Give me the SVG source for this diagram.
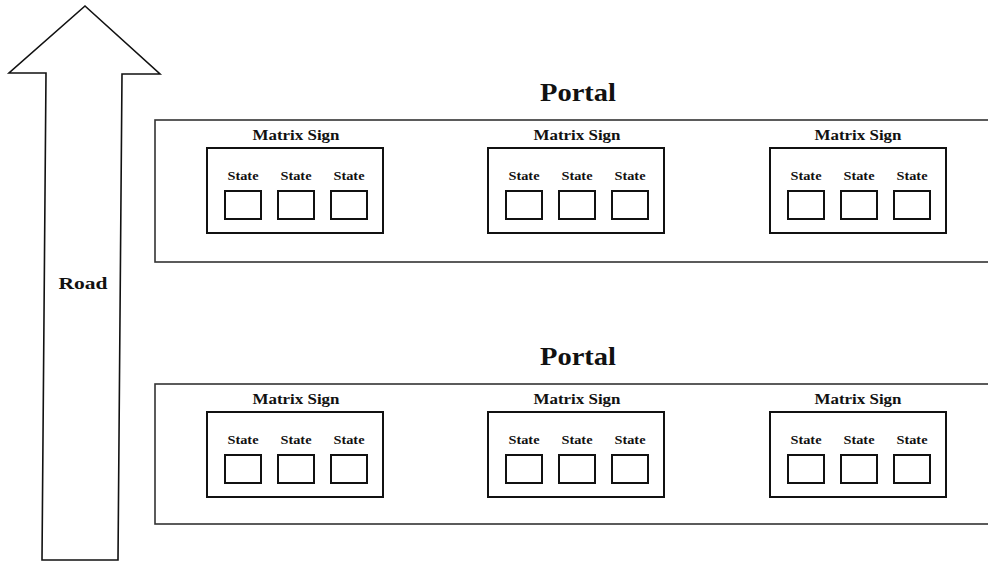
<svg xmlns="http://www.w3.org/2000/svg" width="988" height="561" viewBox="0 0 988 561">
<defs>
<style>
.t{font-family:"Liberation Serif","Times New Roman",serif;font-weight:bold;fill:#111;text-anchor:middle}
.portal{fill:#fff;stroke:#333;stroke-width:1.6}
.sign{fill:#fff;stroke:#111;stroke-width:2}
.state{fill:#fff;stroke:#111;stroke-width:2}
.road{fill:#fff;stroke:#111;stroke-width:1.6;stroke-linejoin:miter}
</style>
<g id="stateSet">
<text class="t" x="36" y="32" font-size="13" textLength="31" lengthAdjust="spacingAndGlyphs">State</text>
<rect class="state" x="18" y="43" width="36" height="28"/>
<text class="t" x="89" y="32" font-size="13" textLength="31" lengthAdjust="spacingAndGlyphs">State</text>
<rect class="state" x="71" y="43" width="36" height="28"/>
<text class="t" x="142" y="32" font-size="13" textLength="31" lengthAdjust="spacingAndGlyphs">State</text>
<rect class="state" x="124" y="43" width="36" height="28"/>
</g>
</defs>
<g id="road">
<polygon class="road" points="85,6 160,74 122,74 118,560 42,560 46,73 9,73"/>
<text class="t" x="83" y="289" font-size="17" textLength="49" lengthAdjust="spacingAndGlyphs">Road</text>
</g>
<g id="portal1">
<text class="t" x="578" y="101" font-size="25" textLength="76" lengthAdjust="spacingAndGlyphs">Portal</text>
<rect class="portal" x="155" y="120" width="845" height="142"/>
<g id="sign1a">
<text class="t" x="296" y="140" font-size="15" textLength="87" lengthAdjust="spacingAndGlyphs">Matrix Sign</text>
<rect class="sign" x="207" y="148" width="176" height="85"/>
<use href="#stateSet" x="207" y="148"/>
</g>
<g id="sign1b">
<text class="t" x="577" y="140" font-size="15" textLength="87" lengthAdjust="spacingAndGlyphs">Matrix Sign</text>
<rect class="sign" x="488" y="148" width="176" height="85"/>
<use href="#stateSet" x="488" y="148"/>
</g>
<g id="sign1c">
<text class="t" x="858" y="140" font-size="15" textLength="87" lengthAdjust="spacingAndGlyphs">Matrix Sign</text>
<rect class="sign" x="770" y="148" width="176" height="85"/>
<use href="#stateSet" x="770" y="148"/>
</g>
</g>
<g id="portal2">
<text class="t" x="578" y="365" font-size="25" textLength="76" lengthAdjust="spacingAndGlyphs">Portal</text>
<rect class="portal" x="155" y="384" width="845" height="140"/>
<g id="sign2a">
<text class="t" x="296" y="404" font-size="15" textLength="87" lengthAdjust="spacingAndGlyphs">Matrix Sign</text>
<rect class="sign" x="207" y="412" width="176" height="85"/>
<use href="#stateSet" x="207" y="412"/>
</g>
<g id="sign2b">
<text class="t" x="577" y="404" font-size="15" textLength="87" lengthAdjust="spacingAndGlyphs">Matrix Sign</text>
<rect class="sign" x="488" y="412" width="176" height="85"/>
<use href="#stateSet" x="488" y="412"/>
</g>
<g id="sign2c">
<text class="t" x="858" y="404" font-size="15" textLength="87" lengthAdjust="spacingAndGlyphs">Matrix Sign</text>
<rect class="sign" x="770" y="412" width="176" height="85"/>
<use href="#stateSet" x="770" y="412"/>
</g>
</g>
</svg>
